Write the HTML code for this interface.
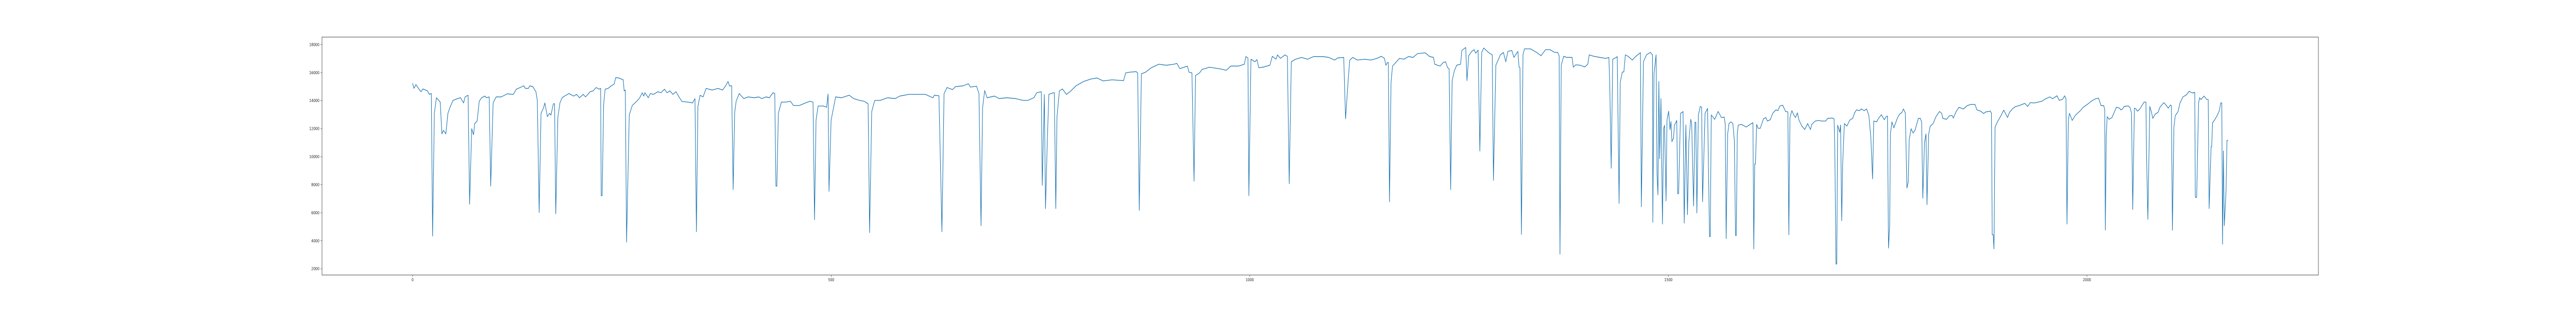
<!DOCTYPE html>
<html><head><meta charset="utf-8"><style>
html,body{margin:0;padding:0;background:#fff;overflow:hidden;width:100%;height:100%;}
svg{display:block;position:absolute;left:0;top:0;width:100vw;height:100vh;}
text{font-family:"DejaVu Sans","Liberation Sans",sans-serif;font-size:7.5px;fill:#222;}
</style></head><body>
<svg id="chart" viewBox="0 0 6000 600" preserveAspectRatio="none" xmlns="http://www.w3.org/2000/svg">
<rect x="0" y="0" width="6000" height="600" fill="#fff"/>
<g id="plot"></g>
<g id="yaxis"></g>
<g id="xaxis"></g>
<rect x="750" y="72" width="4650" height="462" fill="none" stroke="#444" stroke-width="1"/>
</svg>
<script>
const xTicks = [0, 500, 1000, 1500, 2000];
const xTickLabels = ["0", "500", "1000", "1500", "2000"];
const yTicks = [2000, 4000, 6000, 8000, 10000, 12000, 14000, 16000, 18000];
const yTickLabels = ["2000", "4000", "6000", "8000", "10000", "12000", "14000", "16000", "18000"];
const seriesX = [0,1.6,4,7,10,12.4,17.8,20,22.4,23.9,26,28.5,33,35,36.8,39.7,42.2,44.7,48.3,53.7,57.3,60.9,62.7,66.3,68.1,70.6,72.8,74.2,77.1,79.6,82.5,86.1,88.6,91.5,93.3,96.2,99.8,105.9,113,120.3,123.9,132.9,134.7,138.3,140,143.7,147.3,149,151.2,153.4,156.3,158,161,163.5,165.3,168.1,169.6,171,173.5,176,178.6,181.5,186.8,192.3,195.8,199.4,203.8,206.6,210.2,212,215.6,219.2,222.8,224.6,225.3,226.4,228.2,230,233.6,237.2,240.8,242.6,246.2,248,251.6,252.7,254.1,255.6,258.8,262.4,267.8,271.4,274.3,276.1,277.5,281.5,284,287.6,293,296.6,300.9,303.8,307.4,311,314.6,318.2,321.8,329,334.4,337.3,339,340.8,343.4,347,350.6,357.7,364.9,370.3,373.9,376.8,378.6,381.1,382.9,384.7,386.5,390.1,395.5,400.9,408.1,413.5,417.1,422.5,426.1,430.4,432.6,434,435.1,436.9,440.5,445.9,451.3,454.9,462.1,469.3,474.7,478.3,480.1,481.9,484.4,490.9,494.5,496.3,497.4,499.9,501.7,505.3,512.5,521.5,526.9,534,539.4,544.1,545.9,548.4,552,558.5,
567.5,576.5,581.9,592.7,601.7,612.5,621.5,623.3,628.7,632.3,634.8,638.4,644.9,648.5,657.4,663.9,666.4,673.6,676.5,679,680.8,683.3,686.2,695.2,700.6,709.6,720.4,729.4,734.8,742,745.6,751,752.1,754.6,756,758.2,760,765.4,766.5,768.3,769.7,772.6,776.2,780.9,785.2,792.4,801.4,810.4,817.6,824.8,835.5,849.2,851.7,857.1,864.3,866.1,868,870.5,875.1,882.3,891.3,900.3,909.3,912.9,916.5,925.5,927.3,930.9,933.4,935.2,939.9,
943,952,964.7,971.9,977.3,986.3,993.5,995.3,997.8,998.9,1001.4,1006.1,1008.6,1010.7,1016.9,1024,1026.9,1031.3,1033.1,1036.6,1042,1044.9,1047.1,1049.6,1054.6,1061.8,1069,1076.2,1087,1094.2,1101.4,1105,1112.2,1114.4,1117.6,1119.4,1123,1128.4,1137.4,1144.6,1151.8,1157.2,1160.8,1162.6,1164.4,1165.5,1166.9,1168.7,1170.5,1175.2,1178.8,1184.2,1189.6,1195,1200.4,1209.4,1214.8,1219.4,1220.9,1227.3,1230.9,1233.8,1236.3,1238.1,1239.9,1241.7,1244.2,1247.1,1251.8,1253.2,1257.9,1259.4,1261.5,1265.1,1268,1269.8,1272.7,1274.8,1277,1279.5,1284.9,1289.6,1291,1293.9,1299.3,1302.9,1305.8,1308.3,1313,1315.5,1320.2,1321.6,1322.7,1324.5,1326.3,1328.1,1335.3,1342.5,1347.9,1353.3,1358.7,1364.1,1367.7,1369.5,1370.5,1372,1374.9,1378.5,1385,1386.4,1389.3,1394.7,1400.1,1403.7,1405.4,1410.8,1418.1,1425.3,1428.9,1429.9,1431.7,1433.5,1437.8,1438.9,1441.1,1442.5,1445,1446.8,1448.6,1452.2,1456.9,1461.2,1466.6,1467.7,1470.2,1473.8,1478.5,1481,1481.4,1482.8,1485.3,1486.4,1487.5,1488.6,1489.6,1491.1,1492.9,1494.3,1495.4,1497.2,1498.3,
1500.3,1501.9,1503.1,1504.2,1506.1,1507.2,1510,1511.1,1512.2,1514.5,1516.4,1517.5,1518.9,1520.9,1522.8,1524.4,1526.7,1527.8,1530.1,1531.7,1532.8,1534,1535.8,1538.1,1539.7,1540.8,1543.8,1546.8,1549.1,1550,1551.2,1555.3,1559.4,1563.3,1566.7,1567.9,1569,1570.8,1572.4,1574.7,1577,1578.8,1580.2,1581.1,1582.3,1583.4,1587.3,1593,1597.6,1601,1602,1603.1,1604,1605.4,1607.2,1609.7,1613.6,1616.4,1618.2,1621.7,1624.6,1628.5,1630.8,1633.1,1636.5,1640,1642.7,1643.9,1645.2,1647.5,1649.8,1651.9,1654.1,1656,1659.4,1662.9,1666.3,1669.7,1671.3,1675.4,1680,1682.3,1688,1690.3,1695.6,1697.9,1698.8,1700.2,1701.1,1702.2,1704.7,1705.7,1707,1708.2,1710.2,1713.2,1716.6,1720.1,1722.4,1724.7,1728.1,1730.4,1733.8,1736.8,1739.5,1741.8,1743.9,1745.3,1748.7,1751,1754.4,1757.9,1760.1,1761.7,1762.9,1764.3,1765.2,1767,1769.3,1773.4,1776.1,1778.9,1780.7,1783,1784.9,1786.5,1787.6,1789.9,1792.2,1794.5,1796.8,1798.6,1800.9,1802.5,1803.9,1805.9,1807.7,1808.9,1810.9,1812.8,1816.2,1819.6,1823.8,1826.5,1827.7,1832.2,1835.7,1839.1,1840.3,1843.7,1847.1,
1852.5,1857,1861.6,1866.2,1868.5,1873.1,1876.5,1878.8,1884.5,1885.9,1886.8,1888,1888.9,1890.2,1892.5,1894.8,1898.2,1900.5,1905.1,1907.4,1910.8,1914.3,1918.9,1925.7,1929.2,1932.1,1937.2,1941.7,1946.3,1949.8,1955.5,1958.9,1964.2,1966.9,1971,1973.3,1974.9,1976.1,1977.7,1979.1,1982.3,1986.4,1992.1,1995.5,2001.3,2005.8,2010.4,2013.8,2016.8,2020,2021.2,2021.9,2023,2024.1,2026.4,2029.9,2032.2,2035.1,2039,2040.2,2042.5,2044.3,2049.3,2051.6,2053.2,2054.6,2056.6,2058.5,2060.3,2063.1,2066.5,2068.1,2070.4,2071.1,2072.7,2075,2076.8,2078.6,2081.4,2084.8,2087.1,2091.7,2094,2097,2099.7,2100.8,2102,2103.8,2105.4,2108.8,2111.1,2114.6,2119.1,2121.9,2126,2128.7,2129.4,2131,2133.3,2134.5,2136.3,2139.7,2143.2,2144.8,2145.9,2148.2,2148.9,2150,2152.3,2155.8,2158.1,2159.7,2161,2161.9,2162.9,2164,2166.1,2167.2,2168.4];
const seriesY = [15248,14880,15150,14880,14640,14840,14700,14450,14510,4340,13100,14210,13900,11630,11880,11630,13100,13530,14020,14150,14210,13840,14270,14390,6610,12000,11570,12370,12550,13960,14210,14330,14210,14270,7900,13840,14270,14270,14490,14450,14820,15060,14880,14880,15060,15000,14640,14020,6020,13100,13470,13840,12860,13100,12980,13780,13780,5930,12800,13840,14210,14330,14510,14330,14450,14210,14450,14270,14510,14640,14700,14940,14820,14880,7220,7220,13720,14820,14880,15060,15190,15650,15620,15580,15490,14700,14760,3910,12980,13660,13960,14210,14570,14330,14570,14210,14510,14450,14640,14570,14820,14570,14700,14450,14640,14270,13940,13900,13840,14150,4650,13590,14390,14270,14880,14760,14880,14760,15060,15370,15060,15060,7650,13160,13960,14510,14150,14270,14210,14270,14150,14270,14210,14570,14510,7900,7900,13100,13900,13900,13960,13660,13660,13840,13960,13900,5505,12610,13620,13620,13530,14480,7530,12610,13160,14270,14210,14390,14150,14020,13960,13780,4590,13220,14020,14020,
14210,14150,14330,14450,14450,14450,14210,14390,14350,4650,14510,14940,14790,15000,15060,15210,14970,15040,14510,5080,13470,14720,14210,14330,14150,14210,14150,14020,14020,14210,14570,14640,7960,14450,6300,11270,14450,14570,14570,6300,12860,14700,14840,14450,14640,15060,15370,15550,15620,15410,15490,15430,15980,16040,16070,15980,6180,15920,16020,16350,16600,16530,16600,16660,16290,16470,16040,15980,8260,15800,15980,
16230,16390,16270,16170,16470,16470,16600,17150,17050,7220,16960,16780,16930,16350,16410,16530,17170,16960,17270,17020,17270,17170,8080,16780,16960,17090,16960,17150,17150,17090,16900,17050,17090,12710,15550,16900,17090,16900,16960,16900,17020,17170,17020,16530,16720,16720,6790,15310,16470,16780,17020,16960,17150,17090,17360,17420,17150,17090,16600,16470,16720,16780,16350,16290,7650,15430,16110,16530,16600,17580,17800,15430,17210,17520,17640,17390,17610,10410,17450,17760,17450,17270,8320,16530,17270,17450,16780,17520,17580,17090,17520,16410,16350,4460,17270,17700,17700,17450,17210,17640,17640,17450,17450,17210,3050,16530,17170,17090,17090,16390,16560,16530,16410,16600,17270,17170,17090,17020,17090,15310,9180,16960,17090,17150,6670,15310,16050,16050,17270,17150,16900,17170,17430,6430,16780,17270,17450,17270,5320,15920,17270,8810,7280,15370,9860,14150,5200,12000,12250,6850,12610,
13250,11940,12510,11080,11330,12250,12590,7370,7370,13100,13160,13230,5260,12270,5870,11040,12670,12370,6490,12460,12460,5990,12980,13590,13530,6790,13100,13450,4300,4300,12980,12670,13230,12800,12830,12310,4160,11630,12370,12490,12370,11140,4380,4380,11630,12250,12310,12120,12310,12430,3420,9490,9490,12310,12030,12030,12710,12800,12550,12640,13100,13350,13290,13620,13680,13230,13200,4430,12800,13290,12980,12800,13130,12610,12190,11940,12370,11940,12310,12550,12590,12550,12550,12740,12760,12710,10410,2340,2340,12250,11750,12270,5440,9550,12370,12190,12610,12740,13130,13350,13290,13410,13290,13410,12920,11390,8420,12550,12490,12740,13000,12640,12860,12900,3480,5010,11630,12490,12060,12740,13040,13160,13410,13130,7770,8200,11200,12000,11690,11880,12370,12740,12740,12490,7040,11020,11630,6580,11630,12190,12370,12860,13230,13100,12740,12670,12920,12940,12760,13230,13530,
13410,13650,13740,13740,13350,13250,13080,13190,13260,13100,4430,4430,3420,12120,12430,12670,13040,13330,12800,13160,13410,13570,13650,13810,13590,13860,13840,13900,13960,14110,14270,14140,14350,14020,14110,14350,14140,5200,12610,13100,12590,12980,13290,13530,13780,13990,14140,14180,13650,13650,13350,4770,11510,12860,12670,12800,13130,13530,13470,13350,13410,13590,13630,13490,13100,6240,13470,13410,13250,13410,13740,13900,13900,10160,5530,13590,13230,12740,13040,13160,13530,13860,13720,13470,13690,13650,4750,12120,12920,13230,13840,14270,14430,14670,14550,14600,7100,7100,13840,14210,14080,14330,14080,14080,6300,10710,10710,12430,12610,12980,13290,13840,13840,3760,10410,5080,7590,11170,11170];

const X0 = 750, X1 = 5400, Y0 = 534, Y1 = 72;
const xMin = -108.2, xMax = 2276.4, yMin = 1560, yMax = 18540;
function xScale(v){ return X0 + (v - xMin) / (xMax - xMin) * (X1 - X0); }
function yScale(v){ return Y0 - (v - yMin) / (yMax - yMin) * (Y0 - Y1); }
const NS = "http://www.w3.org/2000/svg";

const plot = document.getElementById('plot');
const n = Math.min(seriesX.length, seriesY.length);
let d = '';
for (let i = 0; i < n; i++) {
  d += (i ? 'L' : 'M') + xScale(seriesX[i]).toFixed(2) + ' ' + yScale(seriesY[i]).toFixed(2);
}
const path = document.createElementNS(NS, 'path');
path.setAttribute('d', d);
path.setAttribute('fill', 'none');
path.setAttribute('stroke', '#1f77b4');
path.setAttribute('stroke-width', '1.3');
path.setAttribute('stroke-linejoin', 'round');


plot.appendChild(path);

const yaxis = document.getElementById('yaxis');
yTicks.forEach((t, i) => {
  const y = yScale(t);
  const ln = document.createElementNS(NS, 'line');
  ln.setAttribute('x1', X0 - 3.5); ln.setAttribute('x2', X0);
  ln.setAttribute('y1', y); ln.setAttribute('y2', y);
  ln.setAttribute('stroke', '#444'); ln.setAttribute('stroke-width', '0.8');
  
  
  yaxis.appendChild(ln);
  const tx = document.createElementNS(NS, 'text');
  tx.setAttribute('x', X0 - 6); tx.setAttribute('y', y + 2.7);
  tx.setAttribute('text-anchor', 'end');
  tx.textContent = yTickLabels[i];
  
  
  yaxis.appendChild(tx);
});

const xaxis = document.getElementById('xaxis');
xTicks.forEach((t, i) => {
  const x = xScale(t);
  const ln = document.createElementNS(NS, 'line');
  ln.setAttribute('x1', x); ln.setAttribute('x2', x);
  ln.setAttribute('y1', Y0); ln.setAttribute('y2', Y0 + 3.5);
  ln.setAttribute('stroke', '#444'); ln.setAttribute('stroke-width', '0.8');
  
  
  xaxis.appendChild(ln);
  const tx = document.createElementNS(NS, 'text');
  tx.setAttribute('x', x); tx.setAttribute('y', Y0 + 12);
  tx.setAttribute('text-anchor', 'middle');
  tx.textContent = xTickLabels[i];
  
  
  xaxis.appendChild(tx);
});
</script>
</body></html>
